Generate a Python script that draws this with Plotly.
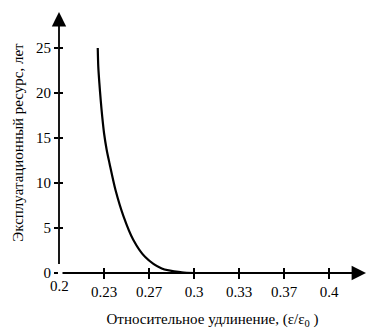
import plotly.graph_objects as go

# data
strain = [0.2287, 0.2291, 0.2299, 0.2309, 0.2320, 0.2334, 0.2353, 0.2374, 0.2419, 0.2478,
          0.255, 0.2637, 0.2761, 0.2909, 0.3, 0.35, 0.4]
life_years = [25, 22.9, 21.1, 19.2, 17.4, 15.5, 13.7, 12.2, 9.2, 6.3,
              3.7, 1.8, 0.5, 0.08, 0, 0, 0]
x_tick_vals = [0.2 + k / 30 for k in range(1, 7)]
x_tick_text = ["0.23", "0.27", "0.3", "0.33", "0.37", "0.4"]
y_tick_vals = [0, 5, 10, 15, 20, 25]

FONT = "Liberation Serif"
X_MIN, X_MAX = 0.2, 0.2 + (366 - 59) / 1350
Y_MIN, Y_MAX = 0, 29

fig = go.Figure()
fig.add_trace(go.Scatter(x=strain, y=life_years, mode="lines",
                         line=dict(color="black", width=2.2, shape="spline", smoothing=0.8),
                         showlegend=False, hoverinfo="skip", cliponaxis=False))

# invisible trace on a second x axis for crossing ticks
fig.add_trace(go.Scatter(x=[X_MIN], y=[0], xaxis="x2", yaxis="y2", mode="markers",
                         marker=dict(opacity=0), showlegend=False, hoverinfo="skip"))

fig.update_layout(
    width=371, height=331,
    margin=dict(l=59, r=371 - 366, t=12, b=58),
    plot_bgcolor="white", paper_bgcolor="white",
    font=dict(family=FONT, size=14, color="black"),
    xaxis=dict(range=[X_MIN, X_MAX], tickvals=x_tick_vals, ticktext=x_tick_text,
               ticks="outside", ticklen=5, tickwidth=1.5, tickcolor="black",
               showgrid=False, zeroline=False, showline=False,
               tickfont=dict(family=FONT, size=15, color="black"),
               title=dict(text="Относительное удлинение, (ε/ε<sub>0</sub> )",
                          font=dict(family=FONT, size=15, color="black"), standoff=14)),
    yaxis=dict(range=[Y_MIN, Y_MAX], tickvals=y_tick_vals,
               ticks="outside", ticklen=4, tickwidth=1.5, tickcolor="black",
               showgrid=False, zeroline=False, showline=False,
               tickfont=dict(family=FONT, size=15, color="black"),
               title=dict(text="Эксплуатационный ресурс, лет",
                          font=dict(family=FONT, size=15, color="black"), standoff=8)),
    xaxis2=dict(range=[X_MIN, X_MAX], overlaying="x", tickvals=x_tick_vals,
                ticks="inside", ticklen=5, tickwidth=1.5, tickcolor="black",
                showticklabels=False, showgrid=False, zeroline=False, showline=False,
                anchor="y2"),
    yaxis2=dict(range=[Y_MIN, Y_MAX], overlaying="y", tickvals=y_tick_vals[1:],
                ticks="inside", ticklen=4, tickwidth=1.5, tickcolor="black",
                showticklabels=False, showgrid=False, zeroline=False, showline=False,
                anchor="x2"),
)

# axis arrows
fig.add_annotation(x=X_MAX, y=0, ax=X_MIN, ay=0, xref="x", yref="y", axref="x", ayref="y",
                   showarrow=True, arrowhead=2, arrowsize=1.6, arrowwidth=1.8,
                   arrowcolor="black", text=" ")
fig.add_annotation(x=X_MIN, y=Y_MAX, ax=X_MIN, ay=0, xref="x", yref="y", axref="x", ayref="y",
                   showarrow=True, arrowhead=2, arrowsize=1.6, arrowwidth=1.8,
                   arrowcolor="black", text=" ")
# origin x label
fig.add_annotation(x=X_MIN, y=0, xref="x", yref="y", text="0.2", showarrow=False,
                   yshift=-13, font=dict(family=FONT, size=15, color="black"))

fig.write_html("out.html")
